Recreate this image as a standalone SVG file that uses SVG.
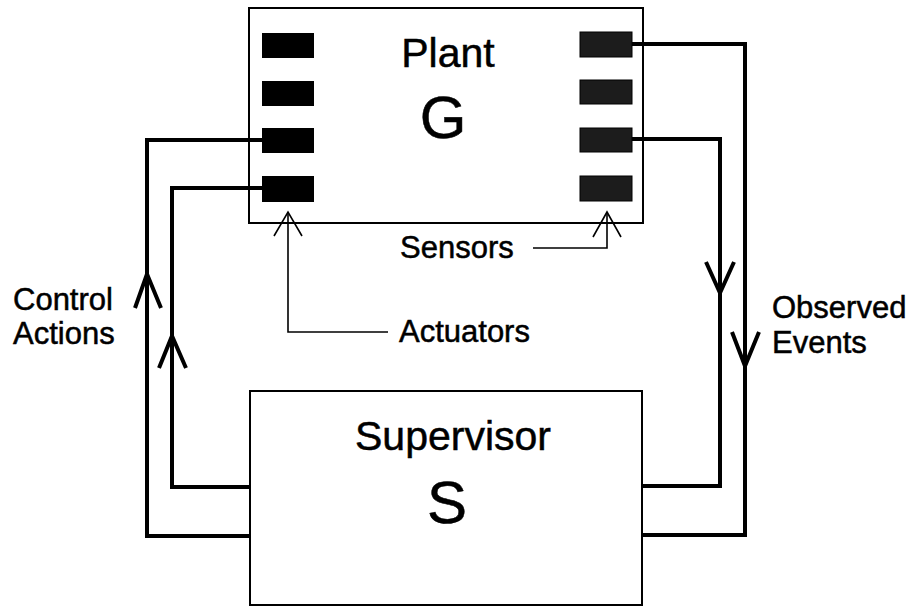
<svg xmlns="http://www.w3.org/2000/svg" width="917" height="608" viewBox="0 0 917 608">
<style>
.box{fill:#fff;stroke:#000;stroke-width:2}
.padL{fill:#000}
.padR{fill:#1c1c1c;stroke:#000;stroke-width:1}
.wire{fill:none;stroke:#000;stroke-width:4;stroke-linejoin:miter}
.ah{fill:none;stroke:#000;stroke-width:4;stroke-linejoin:miter}
.thin{fill:none;stroke:#000;stroke-width:1.6}
text{font-family:"Liberation Sans",Arial,sans-serif;fill:#000;stroke:#000;stroke-width:0.5}
.lbl{font-size:31px}
.title{font-size:41px;text-anchor:middle}
.big{font-size:60px;text-anchor:middle}
</style>
<rect width="917" height="608" fill="#fff"/>
<g id="plant">
<rect class="box" x="249" y="8" width="394" height="215"/>
<rect class="padL" x="262" y="33" width="52" height="25"/>
<rect class="padL" x="262" y="81" width="52" height="25"/>
<rect class="padL" x="262" y="128" width="52" height="25"/>
<rect class="padL" x="262" y="176" width="52" height="26"/>
<rect class="padR" x="580" y="32" width="52" height="25"/>
<rect class="padR" x="580" y="80" width="52" height="24"/>
<rect class="padR" x="580" y="128" width="52" height="24"/>
<rect class="padR" x="580" y="176" width="52" height="25"/>
<text class="title" x="448" y="67">Plant</text>
<text class="big" x="443" y="138">G</text>
</g>
<g id="supervisor">
<rect class="box" x="250" y="391" width="392" height="214"/>
<text class="title" x="453" y="450">Supervisor</text>
<text class="big" x="447" y="523">S</text>
</g>
<g id="connectors">
<polyline class="wire" points="632,44 745,44 745,535 643,535"/>
<polyline class="wire" points="632,139 720,139 720,486 643,486"/>
<polyline class="wire" points="249,536 147,536 147,140 262,140"/>
<polyline class="wire" points="249,487 172,487 172,188 262,188"/>
<polyline class="ah" points="706,262 720,293 734,262"/>
<polyline class="ah" points="732,332 745,366 759,332"/>
<polyline class="ah" points="135,308 147,274 161,308"/>
<polyline class="ah" points="159,368 172,336 186,368"/>
<polyline class="thin" points="288,214 288,332 388,332"/>
<polyline class="thin" points="274,236 288,212 302,236"/>
<polyline class="thin" points="533,248 607,248 607,214"/>
<polyline class="thin" points="593,237 607,212 621,237"/>
</g>
<g id="labels">
<text class="lbl" x="13" y="310">Control</text>
<text class="lbl" x="13" y="344">Actions</text>
<text class="lbl" x="772" y="318">Observed</text>
<text class="lbl" x="772" y="353">Events</text>
<text class="lbl" x="400" y="258">Sensors</text>
<text class="lbl" x="399" y="342">Actuators</text>
</g>
</svg>
